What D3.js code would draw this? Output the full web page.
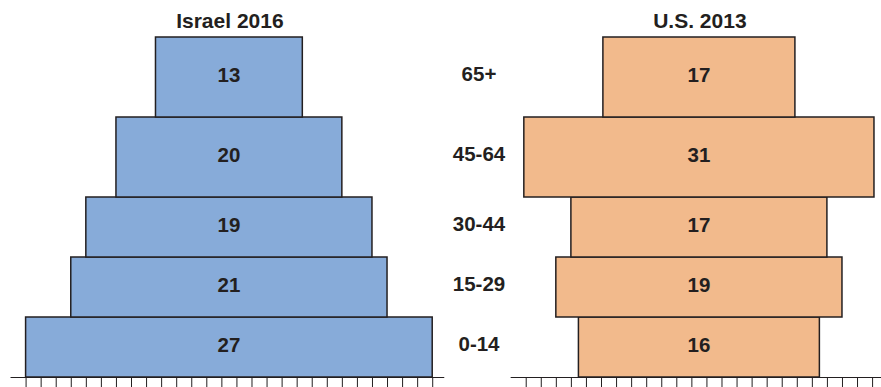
<!DOCTYPE html>
<html>
<head>
<meta charset="utf-8">
<script src="https://cdn.jsdelivr.net/npm/d3@7/dist/d3.min.js"></script>
<style>
  html, body { margin: 0; padding: 0; background: #fff; }
  svg { display: block; font-family: "Liberation Sans", Arial, Helvetica, sans-serif; }
</style>
</head>
<body>
<svg id="chart" width="881" height="387"></svg>
<script>
// Age groups, youngest first, with the number of years each spans
const ageGroups = ["0-14", "15-29", "30-44", "45-64", "65+"];
const ageStart  = [0, 15, 30, 45, 65];
const ageSpan   = [15, 15, 15, 20, 20];

// Share of population (%) in each age group
const israel2016 = [27, 21, 19, 20, 13];
const us2013     = [16, 19, 17, 31, 17];

const panelTitles = ["Israel 2016", "U.S. 2013"];

const W = 881, H = 387;
const svg = d3.select("#chart");
const ink = "#231f20";

// Vertical scale in years of age: bar height is proportional to the age span
const y = d3.scaleLinear().domain([0, 85]).range([377, 37]);

// Horizontal scale in "percent per 15 years", so bar area matches the share
const unit = 15.06;
const xL = d3.scaleLinear().domain([-13.5, 13.5]).range([228.9 - 13.5 * unit, 228.9 + 13.5 * unit]);
const xR = d3.scaleLinear().domain([-11.5, 11.5]).range([698.9 - 11.5 * unit, 698.9 + 11.5 * unit]);

const panels = [
  { title: panelTitles[0], values: israel2016, x: xL, fill: "#87abd9",
    ticks: d3.range(-13.5, 13.51, 1), lineFrom: -14.5, lineTo: 14.3 },
  { title: panelTitles[1], values: us2013, x: xR, fill: "#f2ba8c",
    ticks: d3.range(-11.5, 11.51, 1), lineFrom: -12.5, lineTo: 12.2 }
];

const rows = ageGroups.map((g, i) => ({ group: g, start: ageStart[i], span: ageSpan[i] }));

panels.forEach(p => {
  const g = svg.append("g");
  const data = rows.map((r, i) => ({ ...r, value: p.values[i], density: p.values[i] / r.span * 15 }));

  // baseline axis with unlabeled ticks
  const axis = d3.axisBottom(p.x).tickValues(p.ticks).tickFormat("").tickSize(14).tickSizeOuter(0);
  const ax = g.append("g").attr("transform", `translate(0,${y(0)})`).call(axis);
  ax.select(".domain").remove();
  ax.selectAll(".tick line").attr("stroke", ink).attr("stroke-width", 1);
  ax.append("line")
    .attr("x1", p.x(p.lineFrom)).attr("x2", p.x(p.lineTo))
    .attr("y1", 0.5).attr("y2", 0.5)
    .attr("stroke", ink).attr("stroke-width", 1.2);

  // bars
  g.selectAll("rect.bar").data(data).join("rect")
    .attr("class", "bar")
    .attr("x", d => p.x(-d.density / 2))
    .attr("width", d => p.x(d.density / 2) - p.x(-d.density / 2))
    .attr("y", d => y(d.start + d.span))
    .attr("height", d => y(d.start) - y(d.start + d.span))
    .attr("fill", p.fill)
    .attr("stroke", ink)
    .attr("stroke-width", 1.5);

  // value labels
  g.selectAll("text.val").data(data).join("text")
    .attr("class", "val")
    .attr("x", p.x(0))
    .attr("y", d => y(d.start + d.span / 2) - 2)
    .attr("dy", "0.36em")
    .attr("text-anchor", "middle")
    .attr("font-size", 20.5)
    .attr("font-weight", "bold")
    .attr("fill", ink)
    .text(d => d.value);

  // panel title
  g.append("text")
    .attr("x", p.x(0) + 1)
    .attr("y", 28)
    .attr("text-anchor", "middle")
    .attr("font-size", 21)
    .attr("font-weight", "bold")
    .attr("fill", ink)
    .text(p.title);
});

// age group labels between the two pyramids
svg.selectAll("text.age").data(rows).join("text")
  .attr("class", "age")
  .attr("x", 479)
  .attr("y", d => y(d.start + d.span / 2) - 3)
  .attr("dy", "0.36em")
  .attr("text-anchor", "middle")
  .attr("font-size", 20.5)
  .attr("font-weight", "bold")
  .attr("fill", ink)
  .text(d => d.group);
</script>
</body>
</html>
